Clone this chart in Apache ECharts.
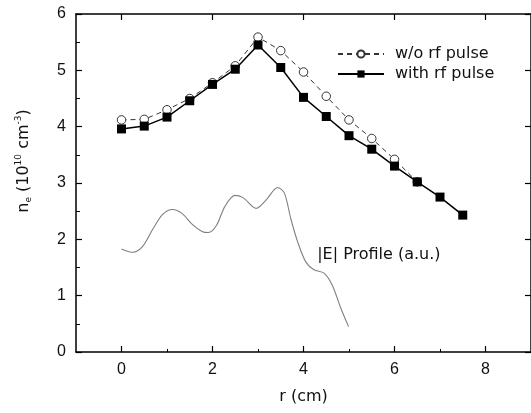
<!DOCTYPE html>
<html>
<head>
<meta charset="utf-8">
<script src="https://cdn.jsdelivr.net/npm/echarts@6/dist/echarts.min.js"></script>
<style>html,body{margin:0;padding:0;background:#fff;}#c{width:531px;height:413px;}</style>
</head>
<body>
<div id="c"></div>
<script>
// ---- data ----
var rVals = [0, 0.5, 1, 1.5, 2, 2.5, 3, 3.5, 4, 4.5, 5, 5.5, 6, 6.5, 7, 7.5];
var withRF = [3.96, 4.01, 4.17, 4.46, 4.75, 5.02, 5.45, 5.05, 4.52, 4.18, 3.84, 3.60, 3.30, 3.02, 2.75, 2.43];
var woRF = [4.12, 4.13, 4.30, 4.50, 4.78, 5.08, 5.59, 5.35, 4.97, 4.54, 4.12, 3.79, 3.42, 3.02];
var profR = [0.0, 0.25, 0.46, 0.68, 0.90, 1.12, 1.33, 1.55, 1.77, 1.91, 2.09, 2.27, 2.49, 2.67, 2.96, 3.18, 3.43, 3.58, 3.72, 3.87, 4.05, 4.23, 4.45, 4.63, 4.81, 4.99];
var profE = [1.83, 1.77, 1.87, 2.17, 2.44, 2.53, 2.46, 2.27, 2.14, 2.12, 2.25, 2.58, 2.78, 2.74, 2.55, 2.70, 2.92, 2.82, 2.37, 1.96, 1.60, 1.46, 1.40, 1.19, 0.80, 0.45];
var xMajor = [0, 2, 4, 6, 8];
var xMinor = [1, 3, 5, 7];
var legendNames = ['w/o rf pulse', 'with rf pulse'];
var profileLabel = '|E| Profile (a.u.)';
var xTitle = 'r (cm)';

function pairs(xs, ys) { return ys.map(function (y, i) { return [xs[i], y]; }); }

var chart = echarts.init(document.getElementById('c'), null, {renderer: 'canvas'});
var font = '"Liberation Sans", Arial, sans-serif';
var tfont = '"DejaVu Sans", sans-serif';
var axisLine = {show: true, onZero: false, lineStyle: {color: '#000', width: 1.5}};

var yTitle = {type: 'text', x: 24, y: 161, rotation: Math.PI / 2,
  style: {text: '{m|n}{s|e}{m| (10}{p|10}{m| cm}{p|-3}{m|)}', align: 'center', verticalAlign: 'middle',
    rich: {
      m: {fontFamily: tfont, fontSize: 16, fill: '#111'},
      s: {fontFamily: tfont, fontSize: 9, fill: '#111', padding: [9, 0, 0, 0]},
      p: {fontFamily: tfont, fontSize: 9, fill: '#111', padding: [0, 0, 10, 0]}
    }}};

chart.setOption({
  animation: false,
  backgroundColor: '#fff',
  grid: {left: 76, top: 14, right: -6, bottom: 61, containLabel: false},
  legend: {
    orient: 'vertical', left: 332, top: 41, itemWidth: 46, itemHeight: 9, itemGap: 4,
    textStyle: {fontFamily: tfont, fontSize: 16, color: '#111', padding: [0, 0, 0, 6]},
    data: legendNames
  },
  xAxis: [
    {type: 'value', min: -1, max: 9, interval: 1, position: 'bottom',
     axisLine: axisLine, splitLine: {show: false},
     axisTick: {show: true, inside: true, length: 6, customValues: xMajor, lineStyle: {color: '#000', width: 1.2}},
     axisLabel: {show: true, customValues: xMajor, margin: 10, fontFamily: font, fontSize: 16, color: '#111'},
     name: xTitle, nameLocation: 'middle', nameGap: 37,
     nameTextStyle: {fontFamily: tfont, fontSize: 16, color: '#111'}},
    {type: 'value', min: -1, max: 9, interval: 1, position: 'bottom',
     axisLine: {show: false, onZero: false}, splitLine: {show: false}, axisLabel: {show: false},
     axisTick: {show: true, inside: true, length: 3, customValues: xMinor, lineStyle: {color: '#000', width: 1}}},
    {type: 'value', min: -1, max: 9, interval: 1, position: 'top',
     axisLine: axisLine, splitLine: {show: false}, axisLabel: {show: false},
     axisTick: {show: true, inside: true, length: 6, customValues: xMajor, lineStyle: {color: '#000', width: 1.2}}}
  ],
  yAxis: [
    {type: 'value', min: 0, max: 6, interval: 1, position: 'left',
     axisLine: axisLine, splitLine: {show: false},
     axisTick: {show: true, inside: true, length: 6, lineStyle: {color: '#000', width: 1.2}},
     minorTick: {show: true, splitNumber: 2, length: 4, lineStyle: {color: '#000', width: 1}},
     axisLabel: {margin: 10, fontFamily: font, fontSize: 16, color: '#111'}},
    {type: 'value', min: 0, max: 6, interval: 1, position: 'right',
     axisLine: axisLine, splitLine: {show: false}, axisLabel: {show: false},
     axisTick: {show: true, inside: true, length: 6, lineStyle: {color: '#000', width: 1.2}}}
  ],
  graphic: [yTitle],
  series: [
    {name: 'profile', type: 'line', xAxisIndex: 0, yAxisIndex: 0, data: pairs(profR, profE),
     smooth: 0.3, showSymbol: false, symbol: 'none', lineStyle: {color: '#808080', width: 1.1}, z: 1},
    {name: legendNames[0], type: 'line', xAxisIndex: 0, yAxisIndex: 0, data: pairs(rVals, woRF),
     symbol: 'circle', symbolSize: 8.5, showAllSymbol: true,
     itemStyle: {color: '#fff', borderColor: '#333', borderWidth: 1},
     lineStyle: {color: '#333', width: 1, type: [5, 4]}, z: 2},
    {name: legendNames[1], type: 'line', xAxisIndex: 0, yAxisIndex: 0, data: pairs(rVals, withRF),
     symbol: 'rect', symbolSize: 9, showAllSymbol: true,
     itemStyle: {color: '#000'},
     lineStyle: {color: '#000', width: 1.5}, z: 3}
  ]
});
chart.setOption({
  graphic: [
    yTitle,
    {type: 'text', x: chart.convertToPixel({xAxisIndex: 0}, 4.3), y: chart.convertToPixel({yAxisIndex: 0}, 1.72),
     style: {text: profileLabel, fontFamily: tfont, fontSize: 16, fill: '#111', align: 'left', verticalAlign: 'middle'}}
  ]
});
</script>
</body>
</html>
